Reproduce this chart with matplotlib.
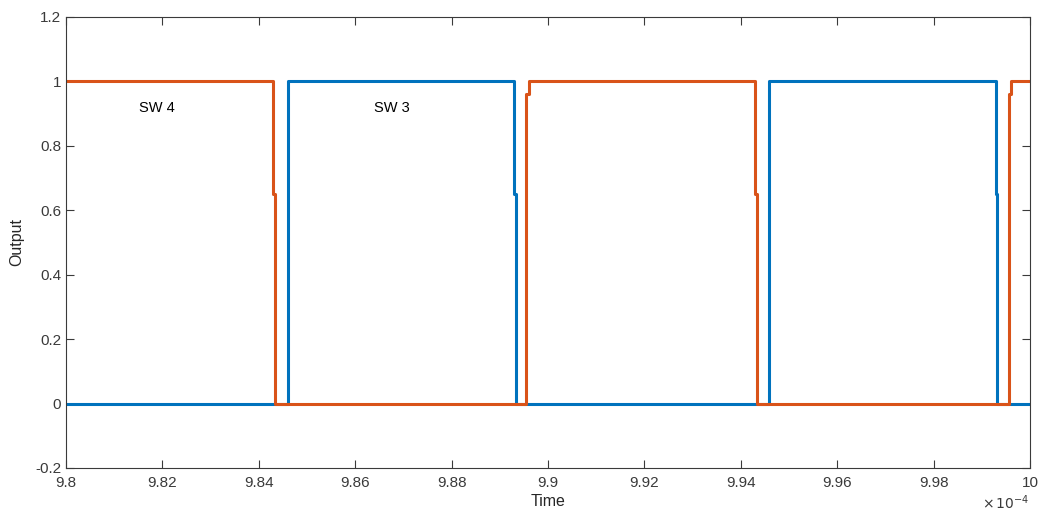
import matplotlib.pyplot as plt

plt.rcParams['font.family'] = ['Liberation Sans', 'DejaVu Sans']

# switching breakpoints (time in units of 1e-4 s) and output levels
sw3_t = [9.80, 9.84606, 9.84606, 9.89301, 9.89301, 9.89330, 9.89330,
         9.94591, 9.94591, 9.99288, 9.99288, 9.99315, 9.99315, 10.0]
sw3_y = [0, 0, 1, 1, 0.65, 0.65, 0,
         0, 1, 1, 0.65, 0.65, 0, 0]

sw4_t = [9.80, 9.84301, 9.84301, 9.84336, 9.84336, 9.89550, 9.89550, 9.89596, 9.89596,
         9.94295, 9.94295, 9.94330, 9.94330, 9.99557, 9.99557, 9.99598, 9.99598, 10.0]
sw4_y = [1, 1, 0.65, 0.65, 0, 0, 0.96, 0.96, 1,
         1, 0.65, 0.65, 0, 0, 0.96, 0.96, 1, 1]

x_ticks = [9.8, 9.82, 9.84, 9.86, 9.88, 9.9, 9.92, 9.94, 9.96, 9.98, 10]
x_labels = ['9.8', '9.82', '9.84', '9.86', '9.88', '9.9',
            '9.92', '9.94', '9.96', '9.98', '10']
y_ticks = [-0.2, 0, 0.2, 0.4, 0.6, 0.8, 1, 1.2]
y_labels = ['-0.2', '0', '0.2', '0.4', '0.6', '0.8', '1', '1.2']

fig = plt.figure(figsize=(10.42, 5.14), dpi=100)
ax = fig.add_axes([0.0633, 0.0895, 0.9252, 0.8775])

ax.plot([t * 1e-4 for t in sw3_t], sw3_y, color='#0072BD', lw=2.2)
ax.plot([t * 1e-4 for t in sw4_t], sw4_y, color='#D95319', lw=2.2)

ax.text(9.8189e-4, 0.918, 'SW 4', fontsize=10.5, ha='center', va='center')
ax.text(9.8676e-4, 0.918, 'SW 3', fontsize=10.5, ha='center', va='center')

ax.set_xlim(9.8e-4, 10e-4)
ax.set_ylim(-0.2, 1.2)
ax.set_xticks([t * 1e-4 for t in x_ticks])
ax.set_xticklabels(x_labels)
ax.set_yticks(y_ticks)
ax.set_yticklabels(y_labels)

ax.tick_params(direction='in', top=True, right=True, length=6,
               labelsize=11, colors='#3a3a3a', width=0.8)
ax.tick_params(axis='x', pad=6)
for s in ax.spines.values():
    s.set_color('#3a3a3a')
    s.set_linewidth(0.8)

ax.set_xlabel('Time', fontsize=11.5, color='#262626', labelpad=3)
ax.set_ylabel('Output', fontsize=11.5, color='#262626', labelpad=8)

# exponent label in the lower right corner
fig.text(0.988, 0.004, r'$\times\,10^{-4}$', fontsize=10, color='#3a3a3a',
         ha='right', va='bottom')

fig.savefig('out.png', dpi=100)
